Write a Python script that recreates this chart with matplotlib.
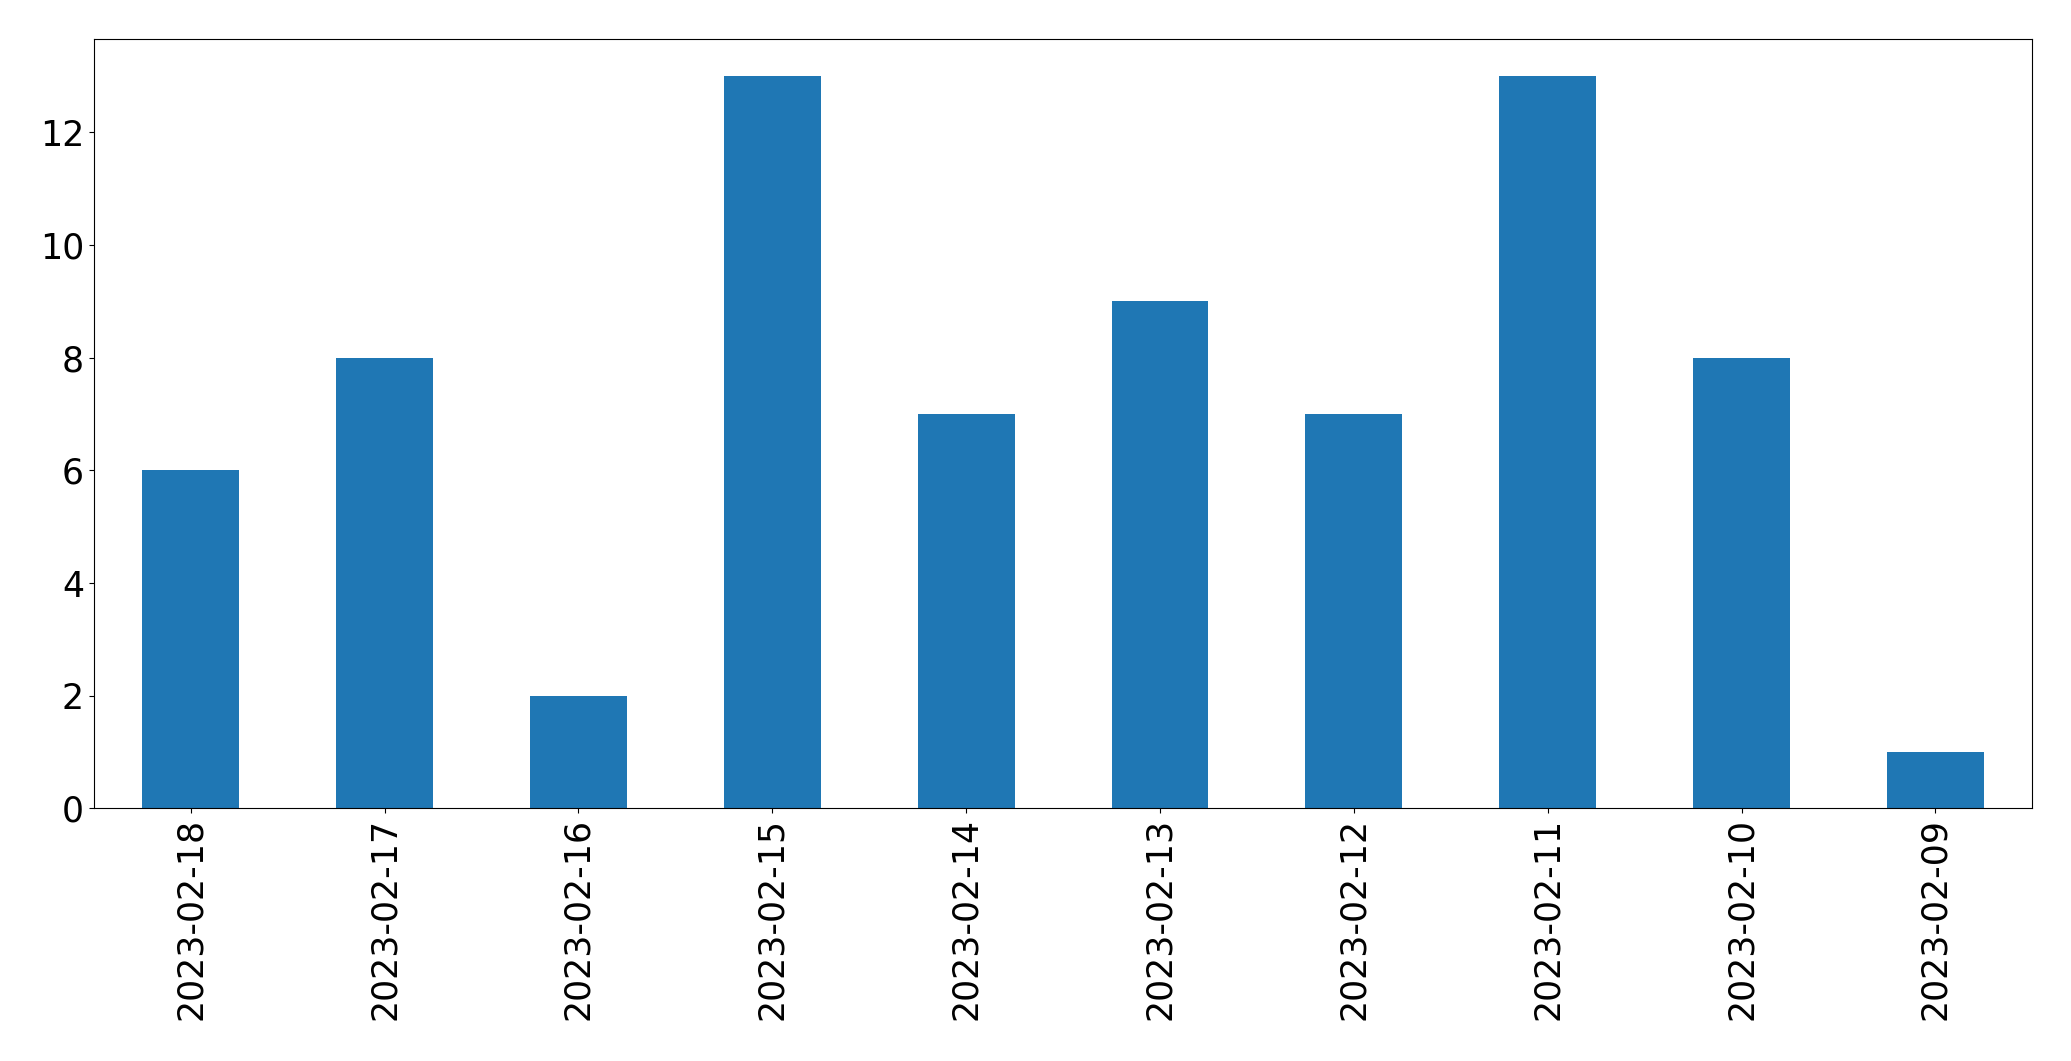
import matplotlib
matplotlib.use('Agg')
import matplotlib.pyplot as plt
import pandas as pd

dates = ['2023-02-18', '2023-02-17', '2023-02-16', '2023-02-15', '2023-02-14',
         '2023-02-13', '2023-02-12', '2023-02-11', '2023-02-10', '2023-02-09']
counts = [6, 8, 2, 13, 7, 9, 7, 13, 8, 1]

s = pd.Series(counts, index=dates)

fig = plt.figure(figsize=(20.71, 10.61), dpi=100)
ax = fig.add_axes([0.0453, 0.238, 0.936, 0.725])
s.plot(kind='bar', ax=ax, color='#1f77b4', fontsize=25)
ax.tick_params(axis='both', labelsize=25)

fig.savefig('out.png', dpi=100)
